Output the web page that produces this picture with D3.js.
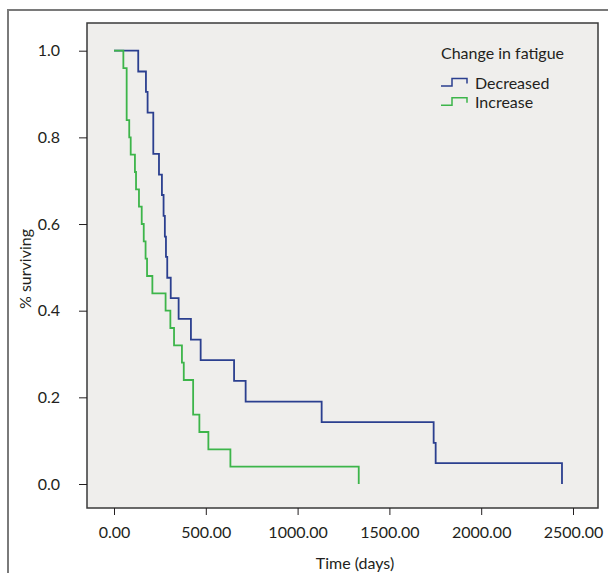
<!DOCTYPE html>
<html>
<head>
<meta charset="utf-8">
<script src="https://cdn.jsdelivr.net/npm/d3@7"></script>
<style>
  body { margin: 0; background: #fff; }
  text { font-family: Lato, "Noto Sans", sans-serif; fill: #231f20; }
</style>
</head>
<body>
<svg id="km" width="608" height="573"></svg>
<script>
// Kaplan-Meier steps: event time (days) and survival after it
var decreasedTimes = [0, 132, 174, 183, 214, 245, 261, 270, 277, 283, 290, 309, 352, 419, 472, 654, 717, 1131, 1741, 1752, 2440];
var decreasedSurv  = [1.0, 0.952, 0.905, 0.857, 0.762, 0.714, 0.667, 0.619, 0.571, 0.524, 0.476, 0.429, 0.381, 0.333, 0.286, 0.238, 0.190, 0.143, 0.095, 0.048, 0.0];

var increaseTimes = [0, 51, 69, 83, 91, 114, 120, 136, 151, 162, 172, 180, 209, 281, 307, 327, 370, 380, 431, 465, 514, 634, 1333];
var increaseSurv  = [1.0, 0.96, 0.84, 0.80, 0.76, 0.72, 0.68, 0.64, 0.60, 0.56, 0.52, 0.48, 0.44, 0.40, 0.36, 0.32, 0.28, 0.24, 0.16, 0.12, 0.08, 0.04, 0.0];

var groups = ["Decreased", "Increase"];
var colors = ["#2b3f8f", "#3db54a"];
var xTicks = [0, 500, 1000, 1500, 2000, 2500];
var yTicks = [0, 0.2, 0.4, 0.6, 0.8, 1.0];

var svg = d3.select("svg#km");

// outer frame (runs off the right and bottom of the picture)
svg.append("rect")
  .attr("x", 8).attr("y", 10)
  .attr("width", 700).attr("height", 700)
  .attr("fill", "#fff")
  .attr("stroke", "#7a7a7a")
  .attr("stroke-width", 2);

var plot = { left: 87, top: 23, right: 598, bottom: 508 };

// scales: 0 days at x=114, 2500 days at x=573; 1.0 at y=50.7, 0.0 at y=484
var x = d3.scaleLinear()
  .domain([0, 2500])
  .range([114, 573]);
var y = d3.scaleLinear()
  .domain([0, 1])
  .range([484, 50.7]);

svg.append("rect")
  .attr("x", plot.left).attr("y", plot.top)
  .attr("width", plot.right - plot.left)
  .attr("height", plot.bottom - plot.top)
  .attr("fill", "#efeeec")
  .attr("stroke", "#3a3a3a")
  .attr("stroke-width", 1.5);

// x axis
var xAxis = svg.append("g")
  .attr("transform", "translate(0," + plot.bottom + ")")
  .call(d3.axisBottom(x).tickValues(xTicks).tickFormat(d3.format(".2f")).tickSize(7).tickPadding(12));
xAxis.select(".domain").remove();
xAxis.selectAll("line").attr("stroke", "#231f20");
xAxis.selectAll("text").attr("font-size", 16).style("font-family", "Lato").attr("fill", "#231f20");

// y axis
var yAxis = svg.append("g")
  .attr("transform", "translate(" + plot.left + ",0)")
  .call(d3.axisLeft(y).tickValues(yTicks).tickFormat(d3.format(".1f")).tickSize(8).tickPadding(19));
yAxis.select(".domain").remove();
yAxis.selectAll("line").attr("stroke", "#231f20");
yAxis.selectAll("text").attr("font-size", 16).style("font-family", "Lato").attr("fill", "#231f20");

// axis titles
svg.append("text")
  .attr("x", 355).attr("y", 569)
  .attr("text-anchor", "middle")
  .attr("font-size", 16)
  .text("Time (days)");

svg.append("text")
  .attr("transform", "translate(31,269) rotate(-90)")
  .attr("text-anchor", "middle")
  .attr("font-size", 16)
  .text("% surviving");

// survival curves
var line = d3.line()
  .x(function (d) { return x(d[0]); })
  .y(function (d) { return y(d[1]); })
  .curve(d3.curveStepAfter);

var series = [
  d3.zip(decreasedTimes, decreasedSurv),
  d3.zip(increaseTimes, increaseSurv)
];

svg.selectAll(".curve")
  .data(series)
  .enter().append("path")
  .attr("class", "curve")
  .attr("fill", "none")
  .attr("stroke", function (d, i) { return colors[i]; })
  .attr("stroke-width", 1.8)
  .attr("d", line);

// legend
svg.append("text")
  .attr("x", 441).attr("y", 59)
  .attr("font-size", 16)
  .text("Change in fatigue");

var legend = svg.selectAll(".legend")
  .data(groups)
  .enter().append("g")
  .attr("class", "legend")
  .attr("transform", function (d, i) { return "translate(441," + (86 + i * 19.3) + ")"; });

legend.append("path")
  .attr("fill", "none")
  .attr("stroke", function (d, i) { return colors[i]; })
  .attr("stroke-width", 1.5)
  .attr("d", "M0,0H11V-7.5H26V-2.5");

legend.append("text")
  .attr("x", 34).attr("y", 2.5)
  .attr("font-size", 16)
  .text(function (d) { return d; });
</script>
</body>
</html>
